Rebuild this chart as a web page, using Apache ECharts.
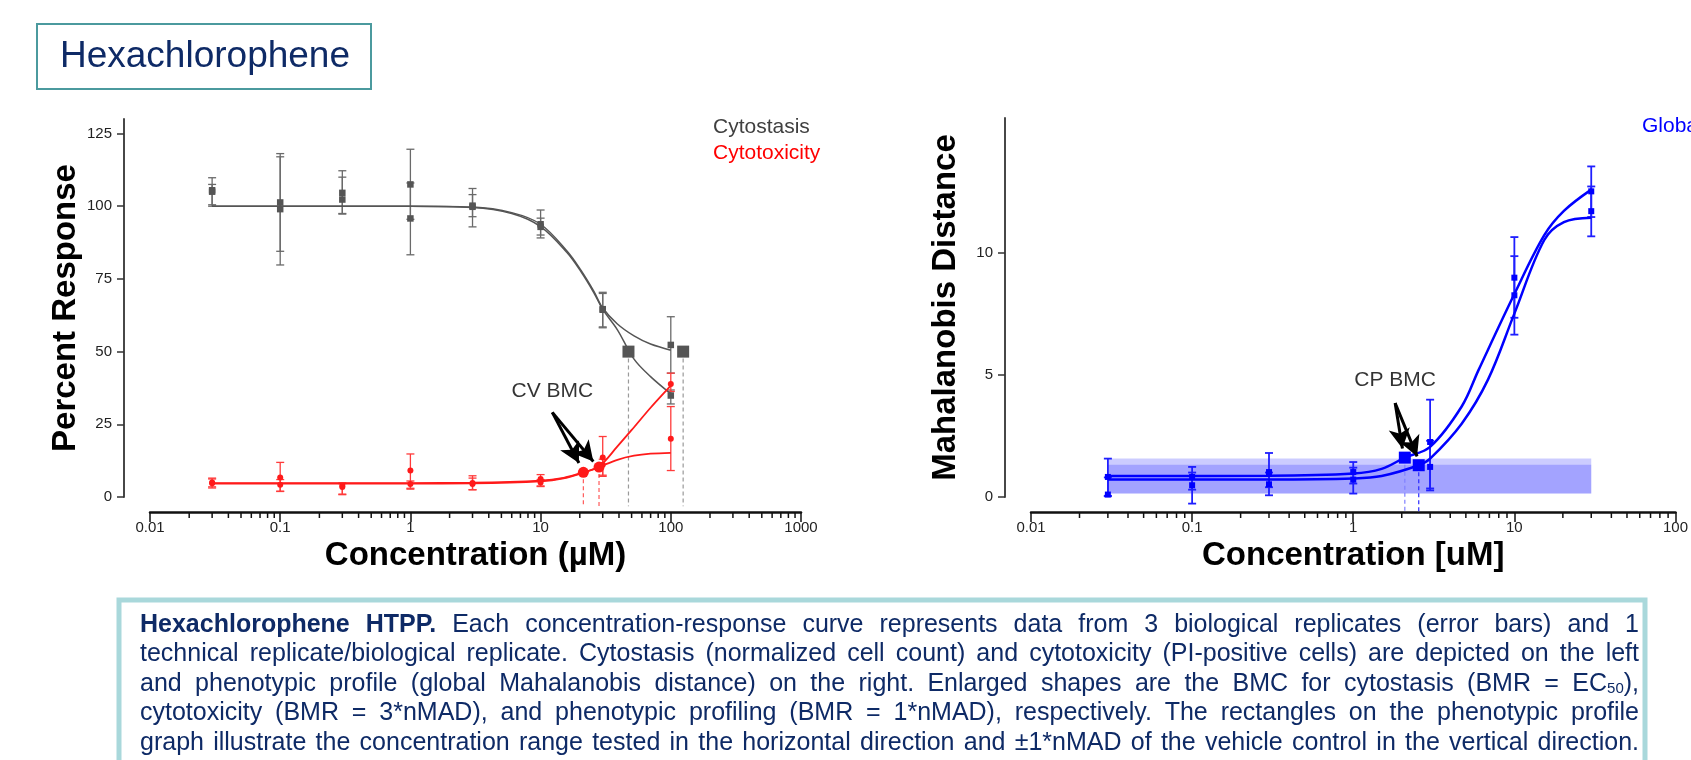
<!DOCTYPE html>
<html>
<head>
<meta charset="utf-8">
<title>Hexachlorophene HTPP</title>
<script src="https://cdn.jsdelivr.net/npm/echarts@6/dist/echarts.min.js"></script>
<style>
  html, body { margin: 0; padding: 0; background: #fff; }
  #chart { width: 1691px; height: 760px; }
</style>
</head>
<body>
<div id="chart"></div>
<script>
const FONT = '"Liberation Sans", Arial, sans-serif';
const lg = Math.log10;

// tested concentrations (uM)
const conc = [0.03, 0.1, 0.3, 1, 3, 10, 30, 100];
const concMD = [0.03, 0.1, 0.3, 1, 3, 10, 30];

// axis labels
const xLabelsLeft = ['0.01', '0.1', '1', '10', '100', '1000'];
const xLabelsRight = ['0.01', '0.1', '1', '10', '100'];
const yTicksLeft = [0, 25, 50, 75, 100, 125];
const yTicksRight = [0, 5, 10];

// cytostasis (percent response), two fits
const cytostasisA = [105.5, 101.3, 104.6, 107.5, 100.2, 93.8, 64.6, 52.3];
const cytostasisALow = [100.5, 84.5, 97.3, 95.5, 96.4, 90.1, 58.5, 42.6];
const cytostasisAHigh = [109.8, 118.1, 112.2, 119.6, 106.1, 98.7, 70.4, 62.0];
const cytostasisB = [105.0, 99.0, 102.3, 95.8, 99.8, 92.9, 64.4, 34.9];
const cytostasisBLow = [100.0, 79.8, 97.5, 83.3, 92.9, 89.1, 58.2, 32.0];
const cytostasisBHigh = [107.5, 117.0, 110.0, 108.0, 104.0, 95.9, 70.0, 36.8];

// cytotoxicity (percent response), two fits
const cytotoxA = [5.0, 6.7, 3.9, 9.1, 4.8, 6.2, 13.6, 38.9];
const cytotoxALow = [3.5, 2.0, 1.0, 3.0, 2.5, 3.8, 7.5, 36.3];
const cytotoxAHigh = [6.5, 11.9, 4.8, 14.8, 7.3, 7.7, 20.8, 42.6];
const cytotoxB = [4.7, 4.2, 3.4, 4.5, 4.5, 5.0, 11.1, 20.0];
const cytotoxBLow = [3.1, 1.9, 0.8, 2.7, 2.5, 3.6, 7.1, 9.1];
const cytotoxBHigh = [6.2, 6.0, 4.6, 5.5, 6.5, 6.0, 13.0, 31.1];

// global Mahalanobis distance, two fits
const mdA = [0.82, 0.82, 1.02, 1.02, 2.25, 8.97, 12.5];
const mdALow = [0.03, 0.30, 0.40, 0.55, 0.35, 7.33, 11.45];
const mdAHigh = [1.57, 1.23, 1.80, 1.43, 3.98, 10.63, 13.52];
const mdB = [0.10, 0.48, 0.52, 0.71, 1.23, 8.25, 11.69];
const mdBLow = [0.05, -0.27, 0.07, 0.14, 0.27, 6.64, 10.66];
const mdBHigh = [0.80, 1.00, 1.00, 1.20, 2.30, 9.85, 12.70];

// fitted curves
const curveConcGray = [0.03, 1, 3, 6, 10, 16, 20.4, 25.6, 30, 38.9, 52.2, 69.9, 100];
const curveGrayA = [100, 100, 99.7, 97.8, 93.8, 84.5, 78, 70.8, 65, 59.5, 55.4, 52.6, 50.5];
const curveGrayB = [100, 100, 99.6, 97.5, 93, 84, 77.5, 70.3, 64.5, 57.5, 47.4, 41.4, 35.5];
const curveConcRed = [0.03, 1, 3, 10, 15, 21.3, 28.1, 38.9, 52.2, 69.9, 100];
const curveRedA = [4.8, 4.8, 4.9, 5.6, 6.6, 8.5, 10.5, 17.4, 24, 30.7, 38.3];
const curveRedB = [4.6, 4.6, 4.7, 5.4, 6.4, 8.3, 10.3, 12.8, 14.2, 14.9, 15.2];
const curveConcBlueA = [0.03, 0.3, 1, 1.5, 2.09, 3, 4.71, 6, 10, 15.3, 20.3, 30];
const curveBlueA = [0.86, 0.87, 0.96, 1.15, 1.61, 2.05, 3.7, 5.2, 8.3, 10.7, 11.7, 12.57];
const curveConcBlueB = [0.03, 0.3, 1, 1.5, 2.55, 3, 4.71, 6.86, 10, 15.3, 20.3, 30];
const curveBlueB = [0.72, 0.72, 0.76, 0.86, 1.3, 1.57, 3.0, 4.8, 7.5, 10.5, 11.24, 11.42];

// benchmark concentrations
const bmcCytostasisConc = [47.3, 124.4];
const bmcCytostasisValue = [50, 50];
const bmcCytotoxConc = [21.3, 28.1];
const bmcCytotoxValue = [8.5, 10.3];
const bmcMDConc = [2.09, 2.55];
const bmcMDValue = [1.61, 1.30];

// vehicle control bands (conc range, +-1*nMAD)
const bandConc = [0.03, 30];
const bandA = [0.14, 1.57];
const bandB = [0.14, 1.32];

// annotations: [conc, value]
const cvLabel = [12.3, 36.5];
const cvArrowFrom = [12.3, 29.1];
const cvArrowTo = [[19.7, 11.7], [25.4, 12.2]];
const cpLabel = [1.82, 4.77];
const cpArrowFrom = [1.82, 3.84];
const cpArrowTo = [[2.02, 1.98], [2.49, 1.66]];

const captionLines = [
  'Hexachlorophene HTPP. Each concentration-response curve represents data from 3 biological replicates (error bars) and 1',
  'technical replicate/biological replicate. Cytostasis (normalized cell count) and cytotoxicity (PI-positive cells) are depicted on the left',
  'and phenotypic profile (global Mahalanobis distance) on the right. Enlarged shapes are the BMC for cytostasis (BMR = EC_50),',
  'cytotoxicity (BMR = 3*nMAD), and phenotypic profiling (BMR = 1*nMAD), respectively. The rectangles on the phenotypic profile',
  'graph illustrate the concentration range tested in the horizontal direction and \u00b11*nMAD of the vehicle control in the vertical direction.'
];

const NAVY = '#0e2a66';

function pts(xs, ys) { return xs.map((c, i) => [lg(c), ys[i]]); }
function errs(xs, lo, hi) { return xs.map((c, i) => [lg(c), lo[i], hi[i]]); }

// log minor tick positions (2..9 in each decade)
function minorTickValues(fromExp, toExp) {
  const out = [];
  for (let e = fromExp; e < toExp; e++) {
    for (let k = 2; k <= 9; k++) out.push(e + Math.log10(k));
  }
  return out;
}

function mainX(gridIndex, max, labels, name) {
  return {
    type: 'value', gridIndex, min: -2, max, interval: 1, position: 'bottom', offset: 15,
    axisLine: { show: true, onZero: false, lineStyle: { color: '#111', width: 2.5 } },
    axisTick: { show: true, length: 10, lineStyle: { color: '#111', width: 1.5 } },
    axisLabel: { color: '#222', fontSize: 15, margin: 8, formatter: v => labels[Math.round(v) + 2] },
    splitLine: { show: false },
    name, nameLocation: 'middle', nameGap: 27,
    nameTextStyle: { fontSize: 33, fontWeight: 'bold', color: '#000' }
  };
}

function yAx(gridIndex, max, ticks, name, gap) {
  return {
    type: 'value', gridIndex, min: 0, max, position: 'left', offset: 26,
    axisLine: { show: true, onZero: false, lineStyle: { color: '#333', width: 1.8 } },
    axisTick: { show: true, length: 7, customValues: ticks, lineStyle: { color: '#333', width: 1.5 } },
    axisLabel: { customValues: ticks, color: '#222', fontSize: 15, margin: 12 },
    splitLine: { show: false },
    name, nameLocation: 'middle', nameGap: gap, nameRotate: 90,
    nameTextStyle: { fontSize: 33, fontWeight: 'bold', color: '#000' }
  };
}

// short ticks hanging under the offset x axis line
function minorTicks(xi, yi, values) {
  return {
    type: 'custom', xAxisIndex: xi, yAxisIndex: yi, silent: true, z: 2,
    data: values.map(v => [v, 0]),
    renderItem(params, api) {
      const p = api.coord([api.value(0), api.value(1)]);
      return {
        type: 'line', shape: { x1: p[0], y1: p[1] + 15, x2: p[0], y2: p[1] + 21 },
        style: { stroke: '#111', lineWidth: 1.5 }
      };
    }
  };
}

function errorBars(xi, yi, color, width, data) {
  return {
    type: 'custom', xAxisIndex: xi, yAxisIndex: yi, data, z: 2, silent: true,
    renderItem(params, api) {
      const x = api.value(0);
      const top = api.coord([x, api.value(2)]);
      const bot = api.coord([x, api.value(1)]);
      const w = 4;
      const style = { stroke: color, lineWidth: width };
      return {
        type: 'group',
        children: [
          { type: 'line', shape: { x1: top[0], y1: top[1], x2: bot[0], y2: bot[1] }, style },
          { type: 'line', shape: { x1: top[0] - w, y1: top[1], x2: top[0] + w, y2: top[1] }, style },
          { type: 'line', shape: { x1: bot[0] - w, y1: bot[1], x2: bot[0] + w, y2: bot[1] }, style }
        ]
      };
    }
  };
}

function dropLines(xi, yi, colors, yEnd, data) {
  return {
    type: 'custom', xAxisIndex: xi, yAxisIndex: yi, data, z: 2, silent: true,
    renderItem(params, api) {
      const p = api.coord([api.value(0), api.value(1)]);
      const q = api.coord([api.value(0), yEnd]);
      return {
        type: 'line', shape: { x1: p[0], y1: p[1], x2: q[0], y2: q[1] },
        style: { stroke: colors[params.dataIndex], lineWidth: 1.2, lineDash: [4, 3] }
      };
    }
  };
}

function curve(xi, yi, color, width, xs, ys) {
  return {
    type: 'line', xAxisIndex: xi, yAxisIndex: yi, data: pts(xs, ys), z: 3, silent: true,
    smooth: 0.35, showSymbol: false, symbol: 'none',
    lineStyle: { color, width }
  };
}

function markers(xi, yi, color, symbol, size, data, z) {
  return {
    type: 'scatter', xAxisIndex: xi, yAxisIndex: yi, data, z: z || 4, silent: true,
    symbol, symbolSize: size, itemStyle: { color, opacity: 1 }
  };
}

function arrows(from, tos) {
  return {
    silent: true, symbol: ['none', 'arrow'], symbolSize: [16, 20],
    lineStyle: { color: '#000', width: 3, type: 'solid' },
    itemStyle: { color: '#000' },
    label: { show: false }, emphasis: { disabled: true },
    data: tos.map(t => [{ coord: [lg(from[0]), from[1]] }, { coord: [lg(t[0]), t[1]] }])
  };
}

function noteLabel(xi, yi, at, text) {
  return {
    type: 'scatter', xAxisIndex: xi, yAxisIndex: yi, data: [[lg(at[0]), at[1]]],
    symbolSize: 0, silent: true, z: 6,
    label: { show: true, position: 'inside', formatter: text, fontSize: 21, color: '#000' }
  };
}

function band(xi, yi, range, color) {
  return {
    type: 'custom', xAxisIndex: xi, yAxisIndex: yi, z: 1, silent: true,
    data: [[lg(bandConc[0]), lg(bandConc[1]), range[0], range[1]]],
    renderItem(params, api) {
      const a = api.coord([api.value(0), api.value(3)]);
      const b = api.coord([api.value(1), api.value(2)]);
      return { type: 'rect', shape: { x: a[0], y: a[1], width: b[0] - a[0], height: b[1] - a[1] }, style: { fill: color } };
    }
  };
}

// justified caption, one text element per word
function captionGraphics() {
  const ctx = document.createElement('canvas').getContext('2d');
  const size = 25, sub = 15, left = 140, right = 1639, top = 625, lead = 29.5;
  const measure = (t, bold, fs) => {
    ctx.font = (bold ? 'bold ' : '') + (fs || size) + 'px ' + FONT;
    return ctx.measureText(t).width;
  };
  const out = [];
  captionLines.forEach((line, li) => {
    const words = line.split(' ').map((w, wi) => {
      const bold = li === 0 && wi < 2;
      if (w.indexOf('_') >= 0) {
        const m = w.match(/^(.*)_(\d+)(.*)$/);
        return {
          text: m[1] + '{s|' + m[2] + '}' + m[3], bold,
          width: measure(m[1], bold) + measure(m[2], bold, sub) + measure(m[3], bold)
        };
      }
      return { text: w, bold, width: measure(w, bold) };
    });
    const total = words.reduce((s, w) => s + w.width, 0);
    const gap = (right - left - total) / (words.length - 1);
    let x = left;
    words.forEach(w => {
      out.push({
        type: 'text', x, y: top + li * lead, z: 20, silent: true,
        style: {
          text: w.text, fill: NAVY, fontSize: size, fontFamily: FONT,
          fontWeight: w.bold ? 'bold' : 'normal', align: 'left', verticalAlign: 'middle',
          rich: { s: { fontSize: sub, fontFamily: FONT, fill: NAVY, verticalAlign: 'bottom' } }
        }
      });
      x += w.width + gap;
    });
  });
  return out;
}

const GRAY = '#555555', RED = '#ff1a1a', BLUE = '#0000ff';

const option = {
  animation: false,
  backgroundColor: '#fff',
  textStyle: { fontFamily: FONT },
  grid: [
    { left: 150, top: 119, width: 651, height: 378 },
    { left: 1031, top: 118, width: 649, height: 379 }
  ],
  xAxis: [
    mainX(0, 3, xLabelsLeft, 'Concentration (\u00b5M)'),
    mainX(1, 2, xLabelsRight, 'Concentration [uM]')
  ],
  yAxis: [
    yAx(0, 130, yTicksLeft, 'Percent Response', 42),
    yAx(1, 15.5, yTicksRight, 'Mahalanobis Distance', 43)
  ],
  series: [
    // left panel
    minorTicks(0, 0, minorTickValues(-2, 3)),
    dropLines(0, 0, ['#9a9a9a', '#9a9a9a'], -3.2, pts(bmcCytostasisConc, bmcCytostasisValue)),
    dropLines(0, 0, ['#ff5a5a', '#ff5a5a'], -3.2, pts(bmcCytotoxConc, bmcCytotoxValue)),
    errorBars(0, 0, '#6a6a6a', 1.3, errs(conc, cytostasisALow, cytostasisAHigh)),
    errorBars(0, 0, '#6a6a6a', 1.3, errs(conc, cytostasisBLow, cytostasisBHigh)),
    errorBars(0, 0, '#ff3b3b', 1.3, errs(conc, cytotoxALow, cytotoxAHigh)),
    errorBars(0, 0, '#ff3b3b', 1.3, errs(conc, cytotoxBLow, cytotoxBHigh)),
    curve(0, 0, GRAY, 1.5, curveConcGray, curveGrayA),
    curve(0, 0, GRAY, 1.5, curveConcGray, curveGrayB),
    curve(0, 0, RED, 1.8, curveConcRed, curveRedA),
    curve(0, 0, RED, 1.8, curveConcRed, curveRedB),
    markers(0, 0, GRAY, 'rect', 6.5, pts(conc, cytostasisA)),
    markers(0, 0, GRAY, 'rect', 6.5, pts(conc, cytostasisB)),
    markers(0, 0, RED, 'circle', 6, pts(conc, cytotoxA)),
    markers(0, 0, RED, 'circle', 6, pts(conc, cytotoxB)),
    markers(0, 0, GRAY, 'rect', 12, pts(bmcCytostasisConc, bmcCytostasisValue), 5),
    Object.assign(markers(0, 0, RED, 'circle', 11, pts(bmcCytotoxConc, bmcCytotoxValue), 5),
      { markLine: arrows(cvArrowFrom, cvArrowTo) }),
    noteLabel(0, 0, cvLabel, 'CV BMC'),

    // right panel
    minorTicks(1, 1, minorTickValues(-2, 2)),
    band(1, 1, bandA, 'rgba(0,0,255,0.2)'),
    band(1, 1, bandB, 'rgba(0,0,255,0.2)'),
    dropLines(1, 1, ['#8080ff', '#2a2aff'], -0.6, pts(bmcMDConc, bmcMDValue)),
    errorBars(1, 1, '#1f1fff', 1.8, errs(concMD, mdALow, mdAHigh)),
    errorBars(1, 1, '#1f1fff', 1.8, errs(concMD, mdBLow, mdBHigh)),
    curve(1, 1, BLUE, 2.5, curveConcBlueA, curveBlueA),
    curve(1, 1, BLUE, 2.5, curveConcBlueB, curveBlueB),
    markers(1, 1, BLUE, 'rect', 6, pts(concMD, mdA)),
    markers(1, 1, BLUE, 'rect', 6, pts(concMD, mdB)),
    Object.assign(markers(1, 1, BLUE, 'rect', 12, pts(bmcMDConc, bmcMDValue), 5),
      { markLine: arrows(cpArrowFrom, cpArrowTo) }),
    noteLabel(1, 1, cpLabel, 'CP BMC')
  ],
  graphic: [
    {
      type: 'rect', z: 10, silent: true,
      shape: { x: 37, y: 24, width: 334, height: 65 },
      style: { fill: '#fff', stroke: '#4b9a9e', lineWidth: 2 }
    },
    {
      type: 'text', x: 205, y: 57, z: 11, silent: true,
      style: { text: 'Hexachlorophene', fill: NAVY, fontSize: 37, fontFamily: FONT, align: 'center', verticalAlign: 'middle' }
    },
    {
      type: 'text', x: 713, y: 127, z: 11, silent: true,
      style: { text: 'Cytostasis', fill: '#404040', fontSize: 21, fontFamily: FONT, align: 'left', verticalAlign: 'middle' }
    },
    {
      type: 'text', x: 713, y: 153, z: 11, silent: true,
      style: { text: 'Cytotoxicity', fill: '#ff0000', fontSize: 21, fontFamily: FONT, align: 'left', verticalAlign: 'middle' }
    },
    {
      type: 'text', x: 1642, y: 126, z: 11, silent: true,
      style: { text: 'Global', fill: BLUE, fontSize: 21, fontFamily: FONT, align: 'left', verticalAlign: 'middle' }
    },
    {
      type: 'rect', z: 15, silent: true,
      shape: { x: 119, y: 600, width: 1526, height: 220 },
      style: { fill: '#fff', stroke: '#a9d8db', lineWidth: 5 }
    }
  ].concat(captionGraphics())
};

const chart = echarts.init(document.getElementById('chart'), null, { renderer: 'canvas' });
chart.setOption(option);
</script>
</body>
</html>
